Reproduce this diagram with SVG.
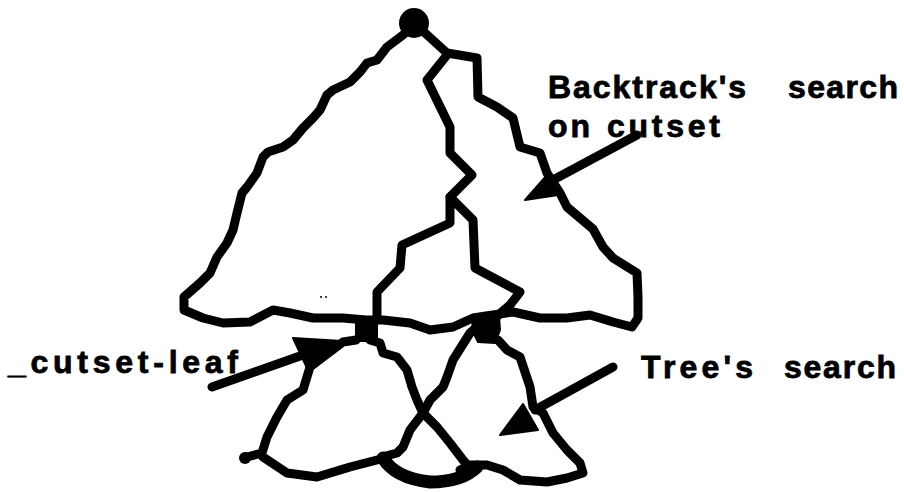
<svg xmlns="http://www.w3.org/2000/svg" width="904" height="492" viewBox="0 0 904 492">
<style>
.ln{fill:none;stroke:#000;stroke-width:9;stroke-linejoin:round;stroke-linecap:round}
.thick{fill:none;stroke:#000;stroke-width:13;stroke-linecap:round}
.fill{fill:#000;stroke:#000;stroke-width:2;stroke-linejoin:round}
.lbl{font-family:"Liberation Sans",Arial,sans-serif;font-weight:bold;font-size:32px;fill:#000;stroke:#000;stroke-width:0.8}
</style>
<rect width="904" height="492" fill="#fff"/>
<g id="cutset-tree">
<path class="ln" d="M414,23 L403,35 L387,47 L377,60 L367,63 L360,72 L350,82 L333,90 L327,95 L320,110 L313,118 L303,128 L293,140 L283,147 L268,152 L263,157 L257,173 L247,187 L242,193 L237,213 L233,230 L227,243 L217,257 L210,273 L200,283 L184,297 L184,310 L203,318 L223,323 L250,322 L273,310 L290,313 L313,318 L343,318 L366,320 L383,320 L410,323 L430,330 L453,327 L473,318 L486,316 L513,312 L540,318 L567,318 L590,315 L613,322 L632,327 L638,318 L638,297 L637,273 L613,258 L603,247 L593,229 L567,207 L560,193 L547,173 L540,153 L520,147 L513,118 L497,107 L478,97 L477,58 L447,53 Z"/>
<path class="ln" d="M447,55 L427,80 L450,127 L450,153 L472,175 L450,197 L450,223 L402,245 L400,268 L377,292 L377,320"/>
<path class="ln" d="M450,197 L473,220 L475,268 L520,292 L510,305 L495,318"/>
<circle cx="414" cy="23" r="15" fill="#000"/>
<circle cx="321" cy="297" r="1" fill="#000"/>
<circle cx="326" cy="297" r="1" fill="#000"/>
</g>
<g id="left-subtree">
<path class="ln" d="M356,340 L343,342 L310,367 L303,390 L287,400 L277,417 L267,437 L262,453 L247,457 M263,457 L287,473 L317,477 L350,467 L377,460 L385,458"/>
<path class="ln" d="M370,340 L380,343 L383,353 L397,357 L407,370 L412,387 L417,400 L423,413 L437,427 L450,443 L463,460 L472,470"/>
<circle cx="245" cy="458" r="6" fill="#000"/>
</g>
<g id="right-subtree">
<path class="ln" d="M477,327 L470,333 L453,360 L447,377 L443,387 L430,400 L423,413 L410,430 L403,447 L397,453 L382,457"/>
<path class="ln" d="M498,340 L507,350 L520,357 L530,387 L533,407 L543,413 L553,433 L567,450 L580,463 L583,473 L567,478 L547,482 L520,480 L503,470 L487,465 L470,465 L460,470"/>
<path class="thick" d="M383,458 Q395,478 430,482 Q462,482 477,467"/>
</g>
<g id="node-cutset-leaf-1">
<rect x="355" y="316" width="23" height="26" fill="#000"/>
</g>
<g id="node-cutset-leaf-2">
<path class="fill" d="M473,318 L486,313 L499,316 L500,330 L495,343 L478,342 L472,330 Z"/>
</g>
<g id="connectors">
<line class="ln" x1="637" y1="135" x2="553" y2="180"/>
<polygon class="fill" points="525,200 548,174 558,195"/>
<line class="ln" x1="212" y1="387" x2="300" y2="356"/>
<polygon class="fill" points="293,338 342,341 307,368"/>
<line class="ln" x1="613" y1="367" x2="535" y2="410"/>
<polygon class="fill" points="500,435 523,404 538,430"/>
</g>
<g id="labels">
<text class="lbl" x="548" y="98" textLength="198" lengthAdjust="spacing">Backtrack's</text>
<text class="lbl" x="788" y="98" textLength="110" lengthAdjust="spacing">search</text>
<text class="lbl" x="548" y="137" textLength="42" lengthAdjust="spacing">on</text>
<text class="lbl" x="607" y="137" textLength="113" lengthAdjust="spacing">cutset</text>
<text class="lbl" x="8" y="373" textLength="230" lengthAdjust="spacing">_cutset-leaf</text>
<text class="lbl" x="641" y="378" textLength="112" lengthAdjust="spacing">Tree's</text>
<text class="lbl" x="784" y="378" textLength="112" lengthAdjust="spacing">search</text>
</g>
</svg>
